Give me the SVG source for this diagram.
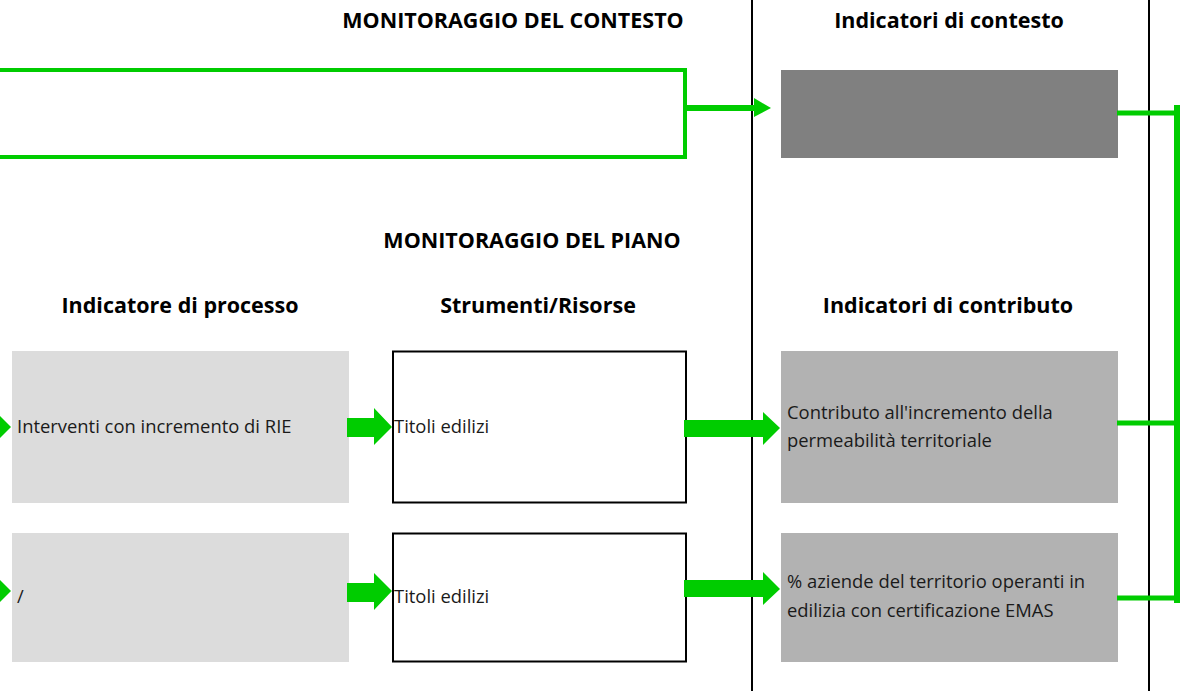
<svg xmlns="http://www.w3.org/2000/svg" width="1180" height="691" viewBox="0 0 1180 691">
<style>
.h{font-family:"Open Sans","Liberation Sans",sans-serif;font-weight:bold;font-size:21.5px;fill:#000;text-anchor:middle}
.t{font-family:"Open Sans","Liberation Sans",sans-serif;font-size:18.4px;fill:#1a1a1a}
.g{fill:#00CC00}
.gl{stroke:#00CC00;fill:none}
.sep{stroke:#000;stroke-width:2}
</style>
<rect width="1180" height="691" fill="#fff"/>
<g id="separators">
<line class="sep" x1="752" y1="0" x2="752" y2="691"/>
<line class="sep" x1="1149" y1="0" x2="1149" y2="691"/>
</g>
<g id="headers">
<text class="h" x="513" y="28">MONITORAGGIO DEL CONTESTO</text>
<text class="h" x="949" y="28">Indicatori di contesto</text>
<text class="h" x="532" y="248">MONITORAGGIO DEL PIANO</text>
<text class="h" x="180" y="313">Indicatore di processo</text>
<text class="h" x="538" y="313">Strumenti/Risorse</text>
<text class="h" x="948" y="313">Indicatori di contributo</text>
</g>
<g id="context-indicator"><rect x="781" y="70" width="337" height="88" fill="#808080"/></g>
<g id="process-1"><rect x="12" y="351" width="337" height="152" fill="#DCDCDC"/><text class="t" x="17" y="433">Interventi con incremento di RIE</text></g>
<g id="process-2"><rect x="12" y="533" width="337" height="129" fill="#DCDCDC"/><text class="t" x="17" y="603">/</text></g>
<g id="tool-1"><rect x="393" y="351.5" width="293" height="151" fill="#fff" stroke="#000" stroke-width="2"/><text class="t" x="394" y="433">Titoli edilizi</text></g>
<g id="tool-2"><rect x="393" y="533.5" width="293" height="128" fill="#fff" stroke="#000" stroke-width="2"/><text class="t" x="394" y="603">Titoli edilizi</text></g>
<g id="contribution-1"><rect x="781" y="351" width="337" height="152" fill="#B2B2B2"/><text class="t" x="787" y="419">Contributo all'incremento della</text><text class="t" x="787" y="447">permeabilità territoriale</text></g>
<g id="contribution-2"><rect x="781" y="533" width="337" height="129" fill="#B2B2B2"/><text class="t" x="787" y="588">% aziende del territorio operanti in</text><text class="t" x="787" y="617">edilizia con certificazione EMAS</text></g>
<g id="connectors">
<polyline class="gl" stroke-width="4" points="0,70 685,70 685,157 0,157"/>
<rect class="g" x="683" y="105" width="72" height="6"/>
<polygon class="g" points="754,98 771,108 754,117"/>
<polygon class="g" points="-2,414 11,427 -2,440"/>
<polygon class="g" points="-2,578 11,591 -2,604"/>
<polygon class="g" points="347,418 374,418 374,408 392,427 374,445 374,437 347,437"/>
<polygon class="g" points="347,583 374,583 374,573 392,591 374,610 374,602 347,602"/>
<polygon class="g" points="684,420 763,420 763,412 780,428 763,445 763,437 684,437"/>
<polygon class="g" points="684,580 763,580 763,572 780,589 763,605 763,597 684,597"/>
<polyline class="gl" stroke-width="5" points="1117,113 1177,113"/>
<polyline class="gl" stroke-width="5" points="1117,423 1177,423"/>
<polyline class="gl" stroke-width="5" points="1117,598 1177,598"/>
<line class="gl" stroke-width="6" x1="1177" y1="105" x2="1177" y2="603"/>
</g>
</svg>
